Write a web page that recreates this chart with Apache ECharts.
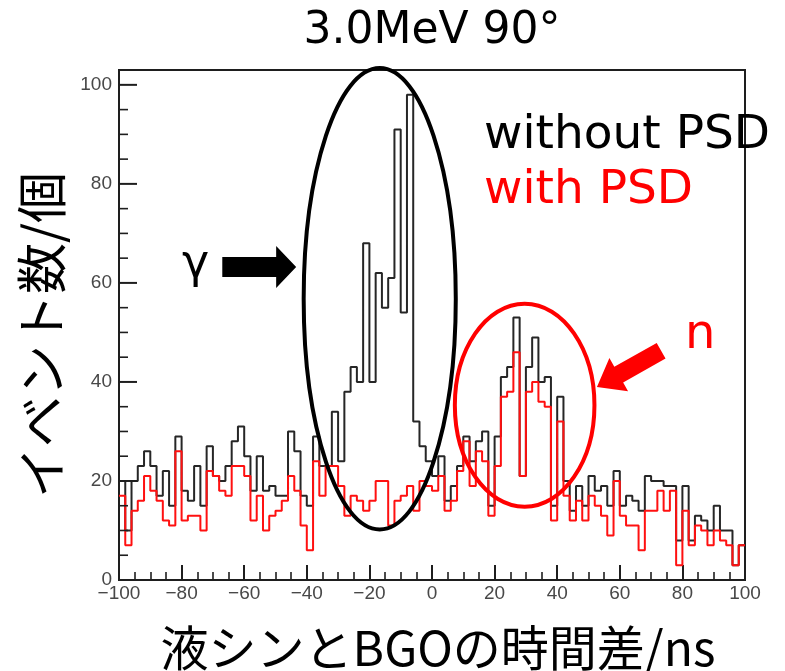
<!DOCTYPE html>
<html>
<head>
<meta charset="utf-8">
<title>3.0MeV 90°</title>
<script src="https://cdn.jsdelivr.net/npm/echarts@6/dist/echarts.min.js"></script>
<style>
  html, body { margin: 0; padding: 0; background: #ffffff; }
  #chart { width: 785px; height: 671px; }
</style>
</head>
<body>
<div id="chart"></div>
<script>
// Histogram bins: left edge of each 2 ns bin
const binLeftEdges = [
  -100, -98, -96, -94, -92, -90, -88, -86, -84, -82,
  -80, -78, -76, -74, -72, -70, -68, -66, -64, -62,
  -60, -58, -56, -54, -52, -50, -48, -46, -44, -42,
  -40, -38, -36, -34, -32, -30, -28, -26, -24, -22,
  -20, -18, -16, -14, -12, -10, -8, -6, -4, -2,
  0, 2, 4, 6, 8, 10, 12, 14, 16, 18,
  20, 22, 24, 26, 28, 30, 32, 34, 36, 38,
  40, 42, 44, 46, 48, 50, 52, 54, 56, 58,
  60, 62, 64, 66, 68, 70, 72, 74, 76, 78,
  80, 82, 84, 86, 88, 90, 92, 94, 96, 98
];
const binUpperEdge = 100;

// Event counts per bin, without pulse shape discrimination
const countsWithoutPSD = [
  20, 10, 20, 23, 26, 23, 17, 22, 15, 29,
  18, 16, 23, 15, 27, 21, 20, 23, 28, 31,
  25, 18, 25, 18, 19, 17, 17, 30, 26, 17,
  15, 29, 23, 23, 34, 24, 38, 43, 40, 68,
  40, 62, 55, 61, 91, 54, 98, 32, 27, 24,
  21, 25, 16, 19, 23, 29, 24, 28, 30, 15,
  29, 41, 43, 53, 21, 43, 49, 40, 41, 15,
  37, 20, 14, 19, 15, 21, 18, 19, 15, 22,
  15, 17, 16, 14, 21, 20, 20, 19, 19, 8,
  19, 8, 13, 12, 10, 15, 10, 10, 3, 7
];

// Event counts per bin, with pulse shape discrimination
const countsWithPSD = [
  17, 7, 14, 16, 21, 18, 16, 12, 11, 26,
  12, 13, 13, 10, 22, 21, 18, 17, 23, 23,
  21, 12, 17, 10, 13, 14, 16, 21, 18, 11,
  6, 24, 17, 23, 23, 19, 13, 17, 16, 14,
  16, 20, 20, 11, 16, 17, 19, 14, 20, 19,
  18, 21, 14, 16, 22, 28, 19, 26, 24, 13,
  23, 37, 38, 46, 21, 38, 40, 36, 35, 12,
  32, 17, 12, 16, 12, 17, 15, 13, 9, 20,
  13, 11, 11, 6, 14, 14, 18, 14, 18, 3,
  14, 7, 11, 10, 7, 10, 8, 7, 3, 7
];

const xTickValues = [-100, -80, -60, -40, -20, 0, 20, 40, 60, 80, 100];
const yTickValues = [0, 20, 40, 60, 80, 100];
const yMinorTickValues = [
  5, 10, 15, 25, 30, 35, 45, 50, 55, 65, 70, 75, 85, 90, 95
];
const yAxisTop = 103;

const titleText = '3.0MeV 90°';
const legendBlack = 'without PSD';
const legendRed = 'with PSD';
const gammaText = 'γ';
const neutronText = 'n';
const xTitle = '液シンとBGOの時間差/ns';
const yTitle = 'イベント数/個';

// Turn per-bin counts into points for a step line (one point per left edge + closing edge)
function histogramPoints(counts) {
  const pts = counts.map((c, i) => [binLeftEdges[i], c]);
  pts.push([binUpperEdge, counts[counts.length - 1]]);
  return pts;
}

const axisColor = '#1e1e1e';
const labelColor = '#484848';
const tickFont = '"Liberation Sans", Arial, sans-serif';
const latinFont = '"DejaVu Sans", Verdana, sans-serif';
const cjkFont = '"Noto Sans CJK JP", "DejaVu Sans", sans-serif';

const majorTickLen = 18;
const minorTickLen = 9;

// Plot frame
const frame = { left: 119, right: 40, top: 70, bottom: 91 };

const chart = echarts.init(document.getElementById('chart'), null, { renderer: 'canvas' });

chart.setOption({
  animation: false,
  backgroundColor: '#ffffff',
  grid: {
    left: frame.left, right: frame.right, top: frame.top, bottom: frame.bottom,
    show: true, borderColor: axisColor, borderWidth: 2,
    backgroundColor: 'transparent'
  },
  xAxis: {
    type: 'value',
    min: xTickValues[0],
    max: xTickValues[xTickValues.length - 1],
    interval: 20,
    axisLine: { show: true, onZero: false, lineStyle: { color: axisColor, width: 2 } },
    axisTick: { show: true, inside: true, length: 15, lineStyle: { color: axisColor, width: 2 } },
    minorTick: { show: true, splitNumber: 4, length: 8, lineStyle: { color: axisColor, width: 1.6 } },
    splitLine: { show: false },
    axisLabel: {
      color: labelColor, fontSize: 19, fontFamily: tickFont,
      margin: 4,
      formatter: v => String(v).replace('-', '\u2212')
    }
  },
  yAxis: {
    // data scale 0..103; tick marks and labels at 0..100 are added below
    type: 'value',
    min: yTickValues[0],
    max: yAxisTop,
    position: 'left',
    axisLine: { show: true, onZero: false, lineStyle: { color: axisColor, width: 2 } },
    axisTick: { show: false },
    splitLine: { show: false },
    axisLabel: { show: false }
  },
  series: [
    {
      name: legendBlack,
      type: 'line',
      step: 'end',
      data: histogramPoints(countsWithoutPSD),
      showSymbol: false,
      symbol: 'none',
      lineStyle: { color: '#262626', width: 2 },
      z: 3
    },
    {
      name: legendRed,
      type: 'line',
      step: 'end',
      data: histogramPoints(countsWithPSD),
      showSymbol: false,
      symbol: 'none',
      lineStyle: { color: '#ff1010', width: 2 },
      z: 4
    }
  ]
});

// Pixel positions from the data scale
const toPx = p => chart.convertToPixel({ xAxisIndex: 0, yAxisIndex: 0 }, p);

// y tick marks on the left frame edge, pointing into the plot, with their labels
function yTickMark(value, len, width) {
  const p = toPx([xTickValues[0], value]);
  return {
    type: 'polyline',
    shape: { points: [[p[0], p[1]], [p[0] + len, p[1]]] },
    style: { stroke: axisColor, lineWidth: width, fill: null },
    z: 100,
    zlevel: 1
  };
}
function yTickLabel(value) {
  const p = toPx([xTickValues[0], value]);
  return {
    type: 'text',
    x: p[0] - 7, y: p[1],
    style: {
      text: String(value), fill: labelColor, font: '19px ' + tickFont,
      textAlign: 'right', textVerticalAlign: 'middle'
    },
    z: 100,
    zlevel: 1
  };
}
const yAxisElements = yTickValues.map(v => yTickMark(v, majorTickLen, 2))
  .concat(yMinorTickValues.map(v => yTickMark(v, minorTickLen, 1.6)))
  .concat(yTickValues.map(yTickLabel));

function ellipseFromData(center, rx, ry, color) {
  const c = toPx(center);
  const e = toPx([center[0] + rx, center[1] + ry]);
  return {
    type: 'ellipse',
    shape: { cx: c[0], cy: c[1], rx: Math.abs(e[0] - c[0]), ry: Math.abs(c[1] - e[1]) },
    style: { fill: 'none', stroke: color, lineWidth: 4 },
    z: 10
  };
}

function arrowFromData(tailData, tipData, shaftHalf, headHalf, headLen, color) {
  const tail = toPx(tailData), tip = toPx(tipData);
  const dx = tip[0] - tail[0], dy = tip[1] - tail[1];
  const L = Math.hypot(dx, dy);
  const ux = dx / L, uy = dy / L, nx = -uy, ny = ux;
  const bx = tip[0] - ux * headLen, by = tip[1] - uy * headLen;
  return {
    type: 'polygon',
    shape: {
      points: [
        [tail[0] + nx * shaftHalf, tail[1] + ny * shaftHalf],
        [bx + nx * shaftHalf, by + ny * shaftHalf],
        [bx + nx * headHalf, by + ny * headHalf],
        [tip[0], tip[1]],
        [bx - nx * headHalf, by - ny * headHalf],
        [bx - nx * shaftHalf, by - ny * shaftHalf],
        [tail[0] - nx * shaftHalf, tail[1] - ny * shaftHalf]
      ]
    },
    style: { fill: color, stroke: 'none' },
    z: 10
  };
}

// Text placed by its top-left (or top-centre) corner
function label(text, x, y, font, color, opts) {
  return {
    type: 'text',
    x: x, y: y,
    style: Object.assign({ text: text, font: font, fill: color, textAlign: 'left', textVerticalAlign: 'top' }, opts || {}),
    z: 12
  };
}

chart.setOption({
  graphic: yAxisElements.concat([
    ellipseFromData([-16.7, 56.8], 24.3, 46.6, '#000000'),
    ellipseFromData([29.6, 35.3], 22.3, 20.5, '#ff0000'),
    arrowFromData([-67.0, 63.2], [-43.4, 63.2], 10, 21, 20, '#000000'),
    arrowFromData([73.2, 46.3], [52.7, 39.0], 9, 19, 25, '#ff0000'),
    label(titleText, 432, 10, '44px ' + latinFont, '#000000', { textAlign: 'center' }),
    label(legendBlack, 484, 112, '47px ' + latinFont, '#000000'),
    label(legendRed, 484, 167, '47px ' + latinFont, '#ff0000'),
    label(gammaText, 182, 242, '46px ' + latinFont, '#000000'),
    label(neutronText, 685, 312, '48px ' + latinFont, '#ff0000'),
    label(xTitle, 438, 648, '48px ' + cjkFont, '#000000', { textAlign: 'center', textVerticalAlign: 'middle' }),
    Object.assign(label(yTitle, 42, 335, '51px ' + cjkFont, '#000000', { textAlign: 'center', textVerticalAlign: 'middle' }), { rotation: Math.PI / 2 })
  ])
});
</script>
</body>
</html>
